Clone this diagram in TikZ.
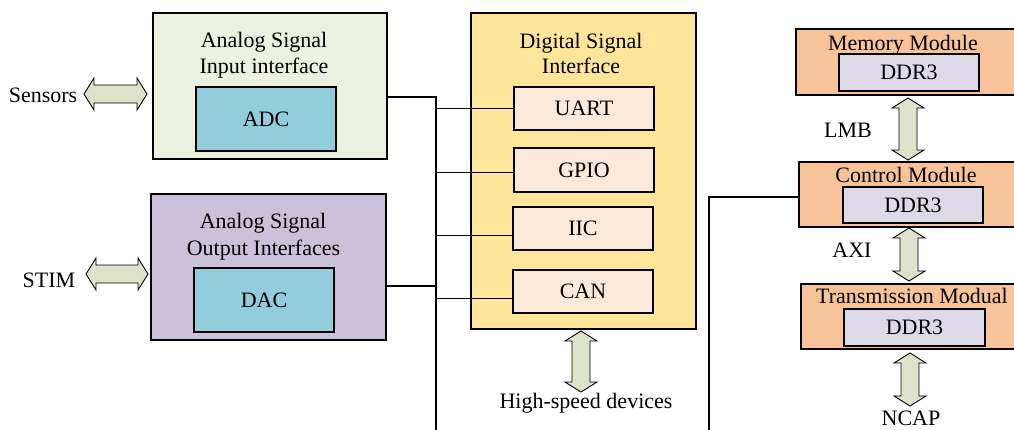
\documentclass[tikz,border=0pt]{standalone}
\usepackage{fontspec}
\setmainfont{Liberation Serif}
\definecolor{ingreen}{HTML}{EBF1DE}
\definecolor{adcblue}{HTML}{92CDDC}
\definecolor{outpurple}{HTML}{CCC1DA}
\definecolor{digyellow}{HTML}{FFE599}
\definecolor{portpeach}{HTML}{FDE9D9}
\definecolor{modorange}{HTML}{F9C39A}
\definecolor{ddrlav}{HTML}{DDD9E6}
\definecolor{busfill}{HTML}{DDE2CB}
% horizontal double block arrow: x1, x2, y
\newcommand\dblarrowh[3]{%
  \filldraw[busarrow] (#1,#3) -- (#1+10,#3-16) -- (#1+10,#3-9) -- (#2-10,#3-9)
    -- (#2-10,#3-16) -- (#2,#3) -- (#2-10,#3+16) -- (#2-10,#3+9)
    -- (#1+10,#3+9) -- (#1+10,#3+16) -- cycle;}
% vertical double block arrow: x, y1, y2
\newcommand\dblarrowv[3]{%
  \filldraw[busarrow] (#1,#2) -- (#1+16,#2+10) -- (#1+9,#2+10) -- (#1+9,#3-10)
    -- (#1+16,#3-10) -- (#1,#3) -- (#1-16,#3-10) -- (#1-9,#3-10)
    -- (#1-9,#2+10) -- (#1-16,#2+10) -- cycle;}
\begin{document}
\begin{tikzpicture}[x=1pt,y=-1pt,
  every node/.style={font=\fontsize{22}{26}\selectfont, inner sep=0pt},
  box/.style={draw=black, line width=1.1pt, rectangle, inner sep=0pt},
  wire/.style={draw=black, line width=1.2pt},
  lbl/.style={anchor=base},
  busarrow/.style={fill=busfill, draw=black, line width=0.9pt, line join=miter}]
\useasboundingbox (0,0) rectangle (1014,429);
\clip (0,0) rectangle (1014,429);

% analog input interface
\node[box, fill=ingreen, minimum width=234pt, minimum height=146pt] (ain) at (270,86) {};
\node[lbl] (ainA) at (264,47) {Analog Signal};
\node[lbl] (ainB) at (264,73) {Input interface};
\node[box, fill=adcblue, minimum width=140pt, minimum height=64pt] (adc) at (266,119) {ADC};

% analog output interface
\node[box, fill=outpurple, minimum width=235pt, minimum height=146pt] (aout) at (268.5,267) {};
\node[lbl] (aoutA) at (263,228) {Analog Signal};
\node[lbl] (aoutB) at (263.5,255) {Output Interfaces};
\node[box, fill=adcblue, minimum width=140pt, minimum height=64pt] (dac) at (264,300) {DAC};

% digital signal interface
\node[box, fill=digyellow, minimum width=225pt, minimum height=316pt] (dig) at (583.5,171) {};
\node[lbl] (digA) at (581,48) {Digital Signal};
\node[lbl] (digB) at (581,73) {Interface};

% shared bus
\coordinate (bustop) at (436,97);
\coordinate (busbot) at (436,430);
\draw[wire] ([yshift=-11pt]ain.east) -- (bustop) -- (busbot);
\draw[wire] ([yshift=-19pt]aout.east) -- ([yshift=-19pt]aout.east -| bustop);

\node[box, fill=portpeach, minimum width=140pt, minimum height=43pt] (uart) at (584,108.5) {UART};
\node[box, fill=portpeach, minimum width=140pt, minimum height=44pt] (gpio) at (584,170) {GPIO};
\node[box, fill=portpeach, minimum width=140pt, minimum height=43pt] (iic) at (583,228.5) {IIC};
\node[box, fill=portpeach, minimum width=140pt, minimum height=43pt] (can) at (583,291.5) {CAN};

\draw[wire] (uart.west -| bustop) -- (uart.west);
\draw[wire] ([yshift=-2.7pt]gpio.west -| bustop) -- ([yshift=-2.7pt]gpio.west);
\draw[wire] ([yshift=-7.2pt]iic.west -| bustop) -- ([yshift=-7.2pt]iic.west);
\draw[wire] ([yshift=-6.8pt]can.west -| bustop) -- ([yshift=-6.8pt]can.west);

% modules on the right
\node[box, fill=modorange, minimum width=234pt, minimum height=66pt] (mem) at (913,62) {};
\node[lbl] (memT) at (903,50) {Memory Module};
\node[box, fill=ddrlav, minimum width=140pt, minimum height=37pt] (memd) at (909,72.5) {DDR3};

\node[box, fill=modorange, minimum width=231pt, minimum height=65pt] (ctrl) at (914.5,194.5) {};
\node[lbl] (ctrlT) at (906,182) {Control Module};
\node[box, fill=ddrlav, minimum width=140pt, minimum height=36pt] (ctrld) at (913,205) {DDR3};

\node[box, fill=modorange, minimum width=229pt, minimum height=65pt] (trans) at (915.5,316.5) {};
\node[lbl] (transT) at (912,303) {Transmission Modual};
\node[box, fill=ddrlav, minimum width=141pt, minimum height=37pt] (transd) at (914.5,327.5) {DDR3};

\coordinate (rbot) at (709,430);
\draw[wire] ([yshift=-2.5pt]ctrl.west) -- ([yshift=-2.5pt]ctrl.west -| rbot) -- (rbot);

% external labels
\node[lbl] (sens) at (43,102) {Sensors};
\node[lbl] (stim) at (49,287) {STIM};
\node[lbl] (hsd) at (586,408) {High-speed devices};
\node[lbl] (lmb) at (848,137) {LMB};
\node[lbl] (axi) at (852,257) {AXI};
\node[lbl] (ncap) at (911,425.5) {NCAP};

% block arrows
\dblarrowh{84}{147}{94}
\dblarrowh{86}{148}{274}
\dblarrowv{581}{331}{392}
\dblarrowv{908}{98}{160}
\dblarrowv{909}{228}{281}
\dblarrowv{910}{353}{406}
\end{tikzpicture}
\end{document}
